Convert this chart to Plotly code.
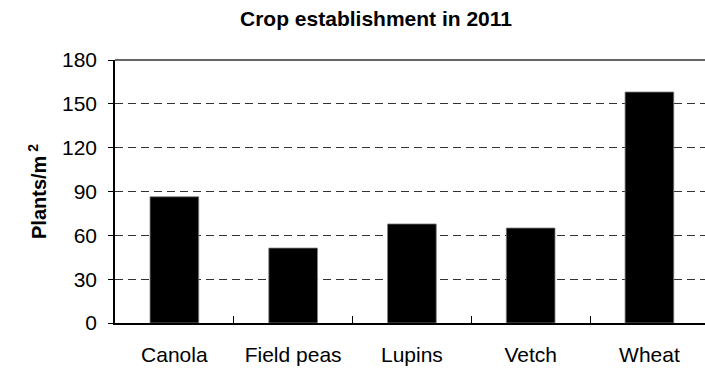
import plotly.graph_objects as go

categories = ["Canola", "Field peas", "Lupins", "Vetch", "Wheat"]
plants = [86.4, 51.3, 67.8, 65.0, 158.1]
y_ticks = [0, 30, 60, 90, 120, 150, 180]

W, H = 705, 371
L, T, B, R = 115, 60, 48, 0

fig = go.Figure()
fig.add_trace(go.Bar(
    x=categories, y=plants,
    marker=dict(color="black", line=dict(color="#808080", width=0.8)),
    width=0.41,
    showlegend=False,
))

font = "Liberation Sans, Arial, sans-serif"
fig.update_layout(
    width=W, height=H,
    margin=dict(l=L, r=R, t=T, b=B),
    paper_bgcolor="white", plot_bgcolor="white",
    font=dict(family=font, size=21, color="black"),
    title=dict(text="<b>Crop establishment in 2011</b>", x=376 / W, xanchor="center",
               xref="container", y=1 - 19 / H, yanchor="middle",
               font=dict(family=font, size=21, color="black")),
    xaxis=dict(
        type="category", range=[-0.5, 4.468],
        showline=True, linecolor="black", linewidth=1.5,
        ticks="inside", tickson="boundaries", ticklen=7, tickwidth=1, tickcolor="black",
        showgrid=False, ticklabelstandoff=12,
        tickfont=dict(family=font, size=21, color="black"),
    ),
    yaxis=dict(
        range=[0, 180], tickvals=y_ticks, ticktext=[str(v) for v in y_ticks],
        showline=True, linecolor="black", linewidth=1.5,
        ticks="outside", ticklen=5, tickwidth=1, tickcolor="black",
        showgrid=True, gridcolor="#333333", gridwidth=1, griddash="8px,5px",
        zeroline=False, ticklabelstandoff=7,
        tickfont=dict(family=font, size=21, color="black"),
        title=dict(text="<b>Plants/m<sup> 2</sup></b>", standoff=10,
                   font=dict(family=font, size=20, color="black")),
    ),
    shapes=[dict(type="line", xref="paper", yref="paper", x0=0, x1=1, y0=1, y1=1,
                 line=dict(color="#333333", width=1.5))],
)

fig.write_html("out.html")
